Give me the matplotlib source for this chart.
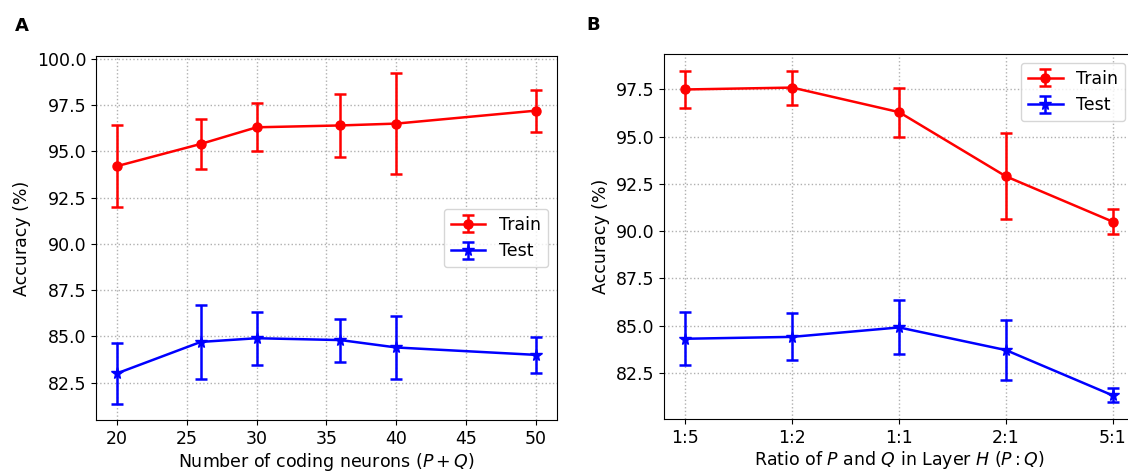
import matplotlib
matplotlib.use('Agg')
import matplotlib.pyplot as plt

# Panel A: accuracy vs number of coding neurons
neurons = [20, 26, 30, 36, 40, 50]
train_a = [94.2, 95.4, 96.3, 96.4, 96.5, 97.2]
train_a_err = [2.2, 1.35, 1.3, 1.7, 2.75, 1.13]
test_a = [83.0, 84.7, 84.9, 84.8, 84.4, 84.0]
test_a_err = [1.63, 2.0, 1.43, 1.16, 1.72, 0.97]

# Panel B: accuracy vs ratio of P and Q
ratios = ['1:5', '1:2', '1:1', '2:1', '5:1']
train_b = [97.5, 97.6, 96.3, 92.9, 90.5]
train_b_err = [1.0, 0.9, 1.3, 2.27, 0.67]
test_b = [84.3, 84.4, 84.9, 83.7, 81.3]
test_b_err = [1.4, 1.25, 1.43, 1.6, 0.37]

plt.rcParams['font.size'] = 12.5

fig = plt.figure(figsize=(11.28, 4.72), dpi=100)
ax_a = fig.add_axes([0.0851, 0.110, 0.4087, 0.771])
ax_b = fig.add_axes([0.5887, 0.1123, 0.4167, 0.7733])

style = dict(lw=1.8, capsize=4, capthick=1.8)


def draw(ax, x, tr, tr_err, te, te_err):
    ax.errorbar(x, tr, yerr=tr_err, color='red', marker='o', markersize=6.5,
                label='Train', **style)
    ax.errorbar(x, te, yerr=te_err, color='blue', marker='*', markersize=8.5,
                label='Test', **style)
    ax.grid(True, linestyle=':', color='#b0b0b0', lw=1.0)
    ax.set_ylabel('Accuracy (%)')


draw(ax_a, neurons, train_a, train_a_err, test_a, test_a_err)
ax_a.set_xlabel('Number of coding neurons ($P+Q$)', labelpad=2)
ax_a.legend(loc='center right')

xb = list(range(len(ratios)))
draw(ax_b, xb, train_b, train_b_err, test_b, test_b_err)
ax_b.set_xticks(xb)
ax_b.set_xticklabels(ratios)
ax_b.set_xlabel('Ratio of $P$ and $Q$ in Layer $H$ ($P:Q$)', labelpad=2)
ax_b.legend(loc='upper right')

fig.text(0.019, 0.945, 'A', fontsize=13, fontweight='bold', ha='center', va='center')
fig.text(0.526, 0.947, 'B', fontsize=13, fontweight='bold', ha='center', va='center')

plt.savefig('out.png', dpi=100)
